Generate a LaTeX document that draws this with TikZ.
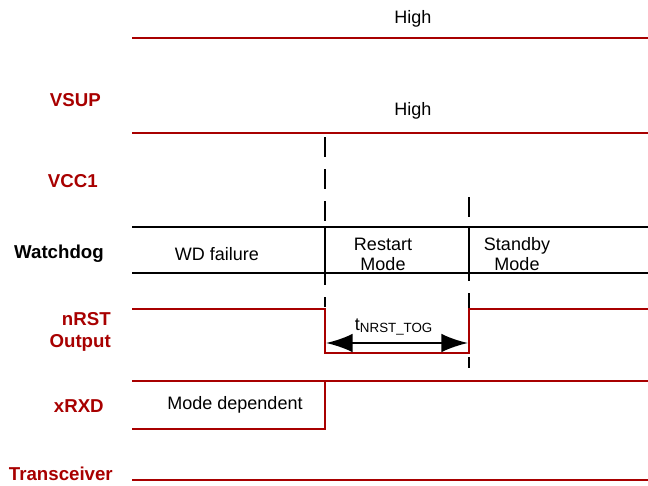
\documentclass[tikz,border=0pt]{standalone}
\usepackage{fontspec}
\setmainfont{Liberation Sans}
\usetikzlibrary{arrows.meta}
\definecolor{sigred}{RGB}{168,0,0}
\tikzset{
  sig/.style={draw=sigred, line width=1.8pt, line join=miter},
  wdline/.style={draw=black, line width=1.8pt},
  guide/.style={draw=black, line width=1.8pt, dash pattern=on 15pt off 9pt},
  lbl/.style={font=\fontsize{14}{17}\selectfont\bfseries, text=sigred,
    anchor=east, align=right, inner sep=0pt},
  txt/.style={font=\fontsize{13.5}{15}\selectfont, inner sep=0pt, align=center},
  dimarr/.style={{Latex[length=20pt,width=14pt]}-{Latex[length=20pt,width=14pt]},
    draw=black, line width=1.8pt}
}
\begin{document}
\begin{tikzpicture}[x=0.75pt, y=-0.75pt]
  \useasboundingbox (0,0) rectangle (648,485);
  % signal names
  \node[lbl] (vsup) at (101,100) {VSUP};
  \node[lbl] (vcc) at (98,181) {VCC1};
  \node[lbl, text=black] (wdg) at (104,254) {Watchdog};
  \node[lbl] (nrst) at (111,332) {nRST\\Output};
  \node[lbl] (xrxd) at (104,406) {xRXD};
  \node[lbl] (trx) at (113,474) {Transceiver};
  % edge guides
  \draw[guide] (325,137) -- (325,307);
  \draw[guide] (469,197) -- (469,368);
  % VSUP and VCC1
  \draw[sig] (132,38) -- (648,38);
  \node[txt] (hi1) at (413,19) {High};
  \draw[sig] (132,133) -- (648,133);
  \node[txt] (hi2) at (413,111) {High};
  % watchdog states
  \draw[wdline] (132,227) -- (648,227);
  \draw[wdline] (132,273) -- (648,273);
  \draw[wdline] (325,227) -- (325,273);
  \draw[wdline] (469,227) -- (469,273);
  \node[txt] (wdf) at (217,254) {WD failure};
  \node[txt] (rst) at (383,254) {Restart\\Mode};
  \node[txt] (stb) at (517,254) {Standby\\Mode};
  % nRST output
  \draw[sig] (132,309) -- (325,309) -- (325,353) -- (469,353) -- (469,309) -- (648,309);
  \coordinate (tl) at (326,343);
  \coordinate (tr) at (468,343);
  \draw[dimarr] (tl) -- (tr);
  \node[txt] (tlab) at (394,327) {t\textsubscript{\fontsize{10}{12}\selectfont NRST\_TOG}};
  % xRXD
  \draw[sig] (132,381) -- (648,381);
  \draw[sig] (132,429) -- (325,429) -- (325,381);
  \node[txt] (mdep) at (235,405) {Mode dependent};
  % transceiver
  \draw[sig] (132,480) -- (648,480);
\end{tikzpicture}
\end{document}
